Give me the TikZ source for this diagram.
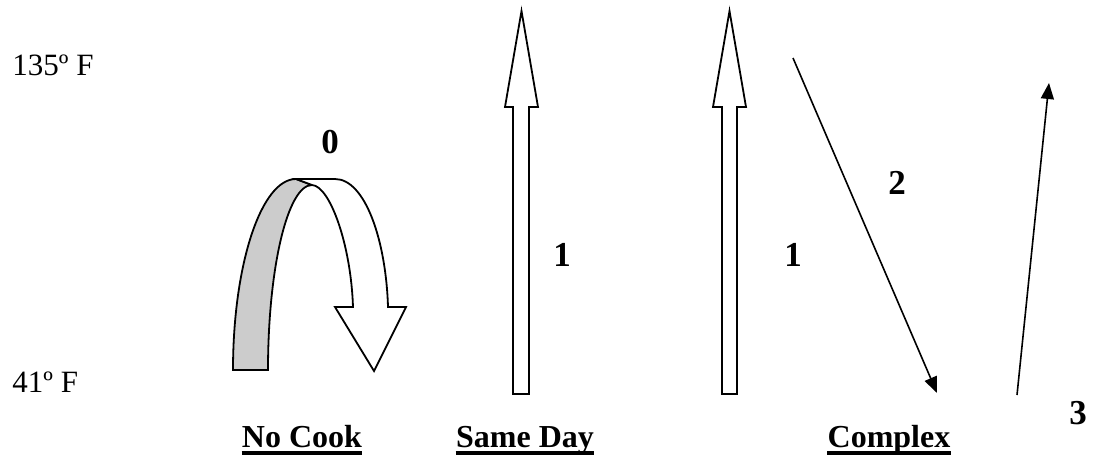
\documentclass[tikz,border=0pt]{standalone}
\usepackage{fontspec}
\setmainfont{Liberation Serif}
\usepackage{tikz}
\usetikzlibrary{arrows.meta}

\begin{document}
\begin{tikzpicture}[x=0.5pt,y=-0.5pt,
    font=\fontsize{15.5}{18}\selectfont,
    bloque/.style={draw=black,line width=0.9pt,fill=white,line join=miter},
    etiqueta/.style={font=\fontsize{16}{18}\selectfont\bfseries,inner sep=0pt,anchor=base},
    numero/.style={font=\fontsize{17.5}{20}\selectfont\bfseries},
    temp/.style={anchor=base west,inner sep=0pt},
    flecha/.style={-{Triangle[length=8pt,width=6.5pt]},line width=0.8pt}]

\useasboundingbox (0,0) rectangle (1097,455);

% Temperaturas
\node[temp] (t135) at (12,75) {135º F};
\node[temp] (t41) at (12,392) {41º F};

% No Cook: flecha curva
\draw[bloque,fill=black!20]
    (233,370)
    .. controls (233,264.5) and (261.2,179) ..
    (296,179) -- (312,185)
    .. controls (287.7,185) and (268,267.8) ..
    (268,370) -- cycle;

\draw[bloque]
    (296,179) -- (335,179)
    .. controls (365,179) and (386,240) ..
    (388,307) -- (406,307) -- (374,371) -- (335,307) -- (353,307)
    .. controls (351,245) and (330,186) ..
    (312,185) -- cycle;

\node[numero] (n0) at (330,142) {0};

% Same Day
\draw[bloque]
    (513,394) -- (513,107) -- (505,107) -- (521.5,11)
    -- (538,107) -- (529,107) -- (529,394) -- cycle;

\node[numero] (n1a) at (562,255) {1};

% Complex
\draw[bloque]
    (722,394) -- (722,107) -- (713,107) -- (729.5,11)
    -- (746,107) -- (737,107) -- (737,394) -- cycle;

\node[numero] (n1b) at (793,255) {1};

\coordinate (a2) at (793,58);
\coordinate (b2) at (937,393);
\draw[flecha] (a2) -- (b2);
\node[numero] (n2) at (897,183) {2};

\coordinate (a3) at (1017,395);
\coordinate (b3) at (1049,83);
\draw[flecha] (a3) -- (b3);
\node[numero] (n3) at (1078,413) {3};

% Etiquetas
\node[etiqueta] (nocook) at (302,447) {No Cook};
\node[etiqueta] (sameday) at (525,447) {Same Day};
\node[etiqueta] (complex) at (889,447) {Complex};

\foreach \e in {nocook,sameday,complex}
    \draw[line width=1.7pt] ([yshift=-3pt]\e.base west) -- ([yshift=-3pt]\e.base east);

\end{tikzpicture}
\end{document}
